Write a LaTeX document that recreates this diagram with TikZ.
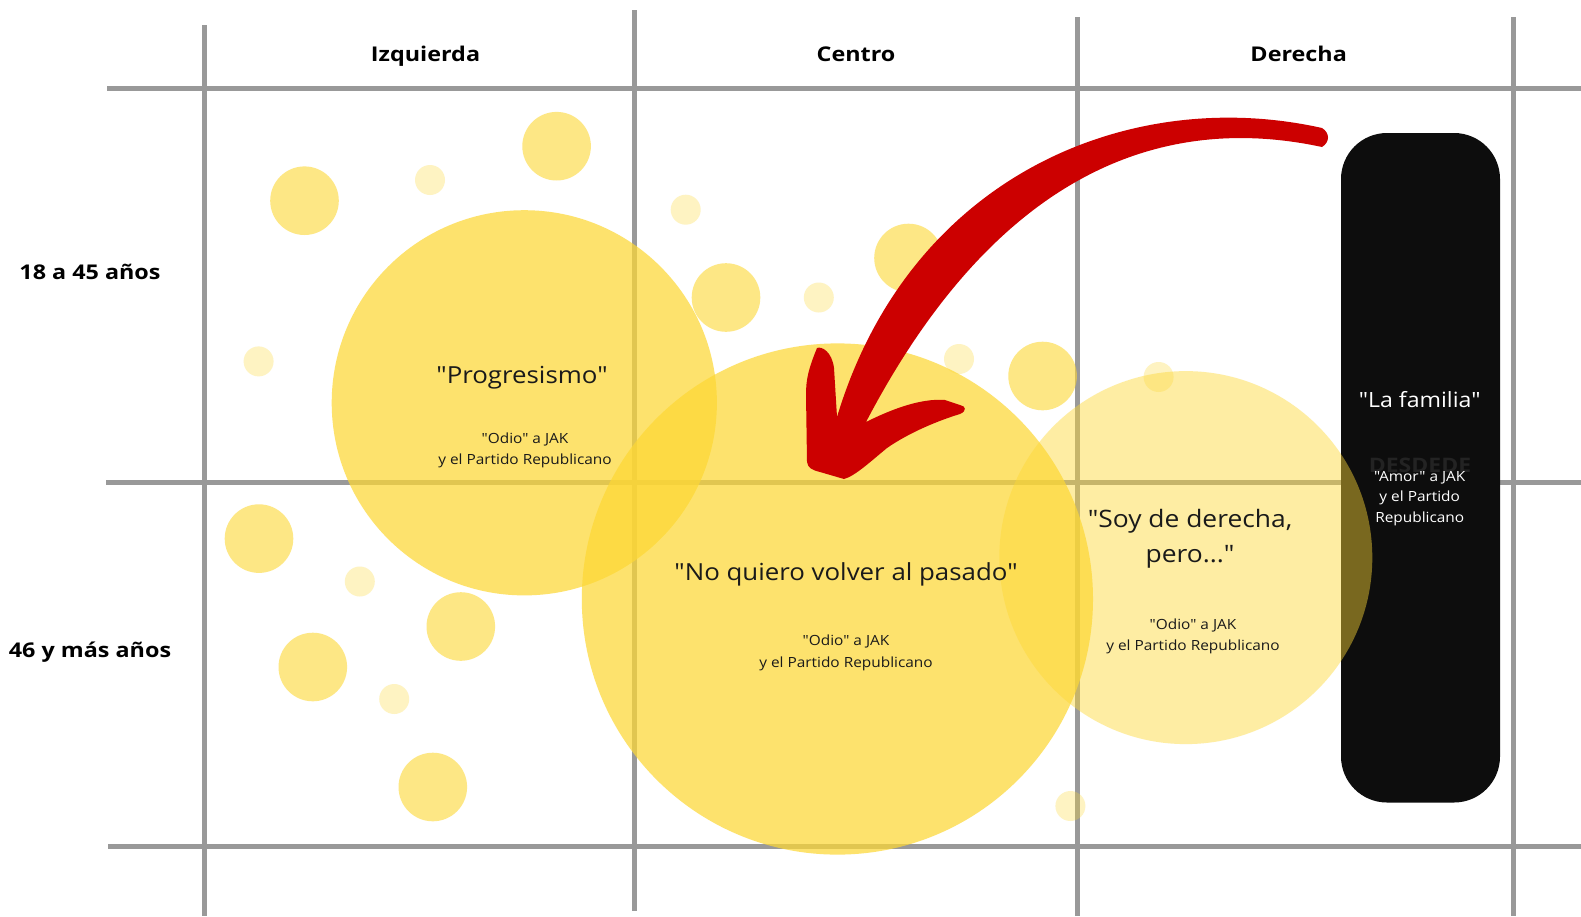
\documentclass[tikz,border=0pt]{standalone}
\usepackage{fontspec}
\setmainfont{Open Sans}[FakeStretch=1.1, BoldFeatures={FakeStretch=1.15}]
\newfontfamily\osans{Open Sans}[FakeStretch=1.1, BoldFeatures={FakeStretch=1.15}]
\newcommand{\dq}{\symbol{34}}
\definecolor{gridgray}{HTML}{999999}
\definecolor{ybase}{HTML}{FDD835}
\definecolor{boxblack}{HTML}{0D0D0D}
\definecolor{arrowred}{HTML}{CC0000}
\definecolor{hidden}{HTML}{232323}
\definecolor{ink}{HTML}{1A1A1A}
\begin{document}
\begin{tikzpicture}[x=1pt,y=-1pt,
  gridline/.style={line width=5pt, draw=gridgray},
  bigcircle/.style={fill=ybase, fill opacity=0.72},
  softcircle/.style={fill=ybase, fill opacity=0.45},
  dotmid/.style={fill=ybase, fill opacity=0.6},
  dotpale/.style={fill=ybase, fill opacity=0.3},
  header/.style={font=\osans\fontsize{20.3}{24}\selectfont\bfseries, text=black, inner sep=0pt, anchor=base},
  title/.style={font=\osans\fontsize{23.5}{34.6}\selectfont, text=ink, align=center, inner sep=0pt},
  sub/.style={font=\osans\fontsize{14}{21.5}\selectfont, text=ink, align=center, inner sep=0pt}]
\useasboundingbox (0,0) rectangle (1581,916);
\fill[white] (0,0) rectangle (1581,916);
% grid
\draw[gridline] (204.7,25) -- (204.7,916);
\draw[gridline] (634.2,10) -- (634.2,910.5);
\draw[gridline] (1077,17) -- (1077,916);
\draw[gridline] (1513.8,17) -- (1513.8,916);
\draw[gridline] (107,88.5) -- (1581,88.5);
\draw[gridline] (106,482) -- (1581,482);
\draw[gridline] (108,846) -- (1581,846);
% black box
\fill[boxblack, rounded corners=46pt] (1341,133) rectangle (1500,802.5);
\node[font=\osans\fontsize{20}{24}\selectfont\bfseries, text=hidden, inner sep=0pt] (hid) at (1420,465) {DESDEDE};
% small circles
\foreach \p in {(556.6,146.2),(304.5,200.7),(726,297.5),(908.5,258),(1042.6,376),(259,538.6),(460.8,626.5),(312.8,667),(432.8,787)}
  \fill[dotmid] \p circle[radius=34.3pt];
\foreach \p in {(430,180),(258.6,361.4),(685.7,209.7),(818.8,297.5),(959,359),(1158.6,377),(1070.4,806),(359.8,581.5),(394.2,699)}
  \fill[dotpale] \p circle[radius=15pt];
% big circles
\fill[bigcircle] (524.3,402.8) circle[radius=192.6pt];
\fill[bigcircle] (837.4,599) circle[radius=255.6pt];
\fill[softcircle] (1185.8,557.6) circle[radius=186.5pt];
% headers
\node[header] (hizq) at (425.5,61) {Izquierda};
\node[header] (hcen) at (856,61) {Centro};
\node[header] (hder) at (1298.7,61) {Derecha};
\node[header] (rjov) at (90,279) {18 a 45 años};
\node[header] (rmay) at (90,657) {46 y más años};
% circle texts
\node[title] (tprog) at (522,378) {\dq Progresismo\dq};
\node[sub] (sprog) at (525,450.5) {\dq Odio\dq{} a JAK\\y el Partido Republicano};
\node[title] (tpas) at (846,574.7) {\dq No quiero volver al pasado\dq};
\node[sub] (spas) at (846,653) {\dq Odio\dq{} a JAK\\y el Partido Republicano};
\node[title, font=\osans\fontsize{24}{35}\selectfont] (tder) at (1190,538.5) {\dq Soy de derecha,\\pero...\dq};
\node[sub] (sder) at (1193,636.5) {\dq Odio\dq{} a JAK\\y el Partido Republicano};
\node[title, text=white, font=\osans\fontsize{21}{25}\selectfont] (tfam) at (1419.7,399.5) {\dq La familia\dq};
\node[sub, text=white, font=\osans\fontsize{14}{20.5}\selectfont] (sfam) at (1419.7,498.5) {\dq Amor\dq{} a JAK\\y el Partido\\Republicano};
% red hand-drawn arrow
\fill[arrowred] (1322,128) .. controls (1130,85) and (910,175) .. (837,417)
  -- (834,368) .. controls (832,352) and (822,346) .. (817,348)
  .. controls (808,370) and (806,380) .. (806,395)
  -- (807,462) .. controls (808,468) and (812,470) .. (820,472)
  -- (844,479) .. controls (855,476) and (870,462) .. (887,448)
  .. controls (910,432) and (940,420) .. (960,414)
  .. controls (967,411) and (966,406) .. (960,405)
  -- (945,400) .. controls (920,398) and (890,410) .. (866,422)
  .. controls (990,185) and (1150,110) .. (1322,147)
  .. controls (1330,142) and (1330,133) .. (1322,128) -- cycle;
\end{tikzpicture}
\end{document}
